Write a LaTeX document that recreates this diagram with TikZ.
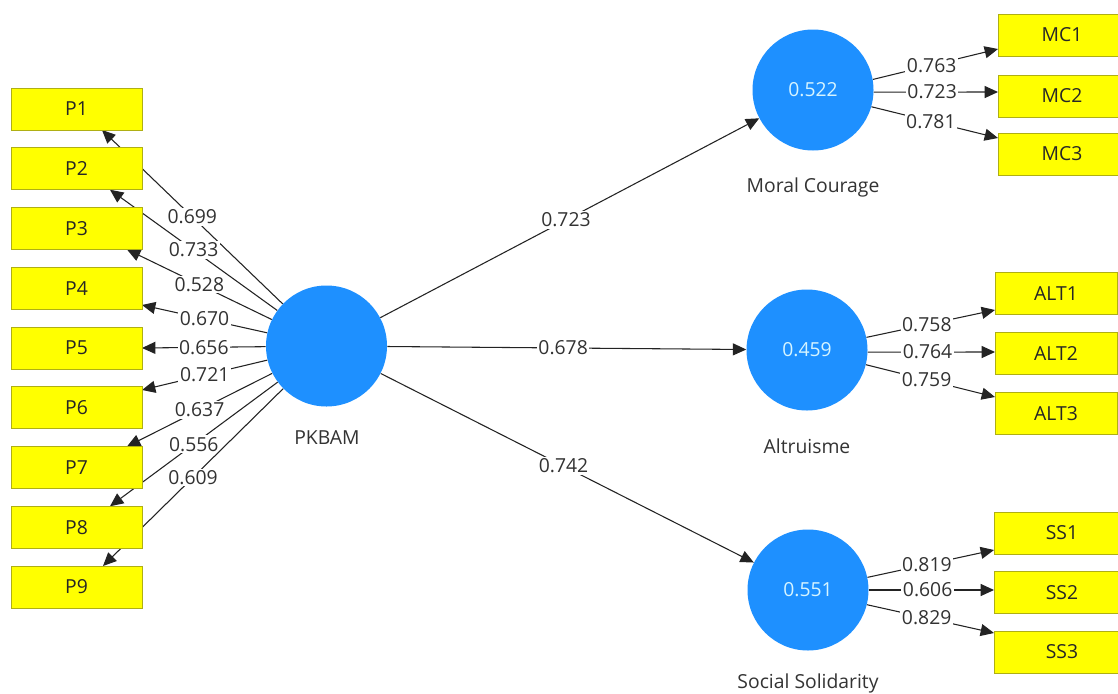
\documentclass[tikz,border=0pt]{standalone}
\usepackage{fontspec}
\setmainfont{Open Sans}
\usetikzlibrary{arrows.meta,backgrounds,calc}
\definecolor{lvblue}{RGB}{30,144,255}
\definecolor{indfill}{RGB}{255,255,0}
\definecolor{indedge}{RGB}{175,175,20}
\definecolor{lnc}{RGB}{35,35,35}
\definecolor{lblc}{RGB}{50,50,50}
\definecolor{lvtext}{RGB}{215,245,255}
\begin{document}
\begin{tikzpicture}[x=0.75pt,y=-0.75pt,
  indbox/.style={draw=indedge, fill=indfill, line width=0.75pt, minimum height=31.5pt,
    inner sep=0pt, text=black!85, font=\fontsize{14.5}{16}\selectfont},
  latent/.style={circle, fill=lvblue, minimum size=90.75pt, inner sep=0pt, text=lvtext,
    font=\fontsize{14.5}{16}\selectfont},
  conn/.style={draw=lnc, line width=0.8pt, -{Triangle[length=10pt,width=9pt]}},
  val/.style={fill=white, inner sep=1.2pt, text=lblc, font=\fontsize{14.5}{16}\selectfont},
  lvname/.style={text=black!80, font=\fontsize{14.5}{16}\selectfont}
]
\useasboundingbox (0,0) rectangle (1118,693);
\begin{scope}[on background layer]
\fill[white] (0,0) rectangle (1118,693);
\end{scope}

% latent variables
\node[latent] (pk) at (326.5,346) {};
\node[latent] (mc) at (813,90) {0.522};
\node[latent] (alt) at (807,350) {0.459};
\node[latent] (ss) at (808,590) {0.551};

\node[lvname] (pkname) at (327,438) {PKBAM};
\node[lvname] (mcname) at (813,187) {Moral Courage};
\node[lvname] (altname) at (807,446) {Altruisme};
\node[lvname] (ssname) at (808,683) {Social Solidarity};

% indicators of PKBAM
\foreach \i/\yy in {1/109,2/168.75,3/228.5,4/288.25,5/348,6/407.75,7/467.5,8/527.25,9/587}{
  \node[indbox, minimum width=98.25pt] (P\i) at (76.5,\yy) {P\i};
}
% indicators right
\node[indbox, minimum width=96pt] (MC1) at (1062,35) {MC1};
\node[indbox, minimum width=96pt] (MC2) at (1062,96) {MC2};
\node[indbox, minimum width=96pt] (MC3) at (1062,154) {MC3};
\node[indbox, minimum width=91.5pt] (ALT1) at (1056,293.5) {ALT1};
\node[indbox, minimum width=91.5pt] (ALT2) at (1056,353.5) {ALT2};
\node[indbox, minimum width=91.5pt] (ALT3) at (1056,413.5) {ALT3};
\node[indbox, minimum width=102pt] (SS1) at (1062,533) {SS1};
\node[indbox, minimum width=102pt] (SS2) at (1062,592.5) {SS2};
\node[indbox, minimum width=102pt] (SS3) at (1062,652) {SS3};

% arrow end points on boxes
\coordinate (t1) at (102,130);
\coordinate (t2) at (110,189.75);
\coordinate (t3) at (127,249.5);
\coordinate (t4) at (142,305);
\coordinate (t5) at (142,348);
\coordinate (t6) at (142,390);
\coordinate (t7) at (127,446.5);
\coordinate (t8) at (110,506.25);
\coordinate (t9) at (103,566);

\coordinate (m1) at (998,49);
\coordinate (m2) at (998,92);
\coordinate (m3) at (998,138);
\coordinate (a1) at (995,310);
\coordinate (a2) at (995,352);
\coordinate (a3) at (995,397);
\coordinate (s1) at (994,550);
\coordinate (s2) at (994,590);
\coordinate (s3) at (994,633);

\begin{scope}[on background layer]
\draw[conn] (pk) -- node[val]{0.699} (t1);
\draw[conn] (pk) -- node[val]{0.733} (t2);
\draw[conn] (pk) -- node[val]{0.528} (t3);
\draw[conn] (pk) -- node[val]{0.670} (t4);
\draw[conn] (pk) -- node[val]{0.656} (t5);
\draw[conn] (pk) -- node[val]{0.721} (t6);
\draw[conn] (pk) -- node[val]{0.637} (t7);
\draw[conn] (pk) -- node[val]{0.556} (t8);
\draw[conn] (pk) -- node[val]{0.609} (t9);

\draw[conn] (pk) -- node[val, pos=0.49]{0.723} (mc);
\draw[conn] (pk) -- node[val, pos=0.49]{0.678} (alt);
\draw[conn] (pk) -- node[val, pos=0.49]{0.742} (ss);

\draw[conn] (mc.10) -- node[val, pos=0.47]{0.763} (m1);
\draw[conn] (mc.-2) -- node[val, pos=0.47]{0.723} (m2);
\draw[conn] (mc.-16) -- node[val, pos=0.47]{0.781} (m3);

\draw[conn] (alt.12) -- node[val, pos=0.47]{0.758} (a1);
\draw[conn] (alt.-2) -- node[val, pos=0.47]{0.764} (a2);
\draw[conn] (alt.-14) -- node[val, pos=0.47]{0.759} (a3);

\draw[conn] (ss.12) -- node[val, pos=0.47]{0.819} (s1);
\draw[conn] (ss.0) -- node[val, pos=0.47]{0.606} (s2);
\draw[conn] (ss.-14) -- node[val, pos=0.47]{0.829} (s3);
\end{scope}
\end{tikzpicture}
\end{document}
